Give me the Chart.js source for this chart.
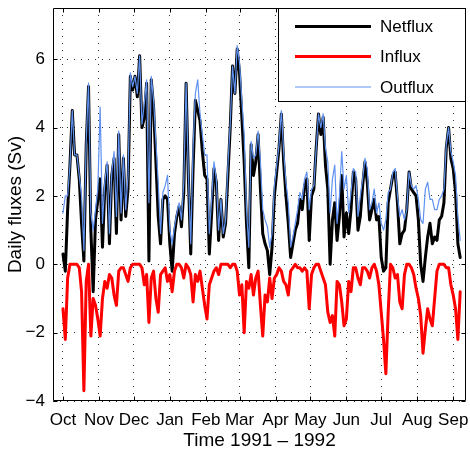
<!DOCTYPE html>
<html><head><meta charset="utf-8">
<script src="https://cdn.jsdelivr.net/npm/chart.js@4.4.1/dist/chart.umd.min.js"></script>
<style>html,body{margin:0;padding:0;background:#fff}canvas{display:block}</style>
</head><body>
<canvas id="c" width="470" height="453"></canvas>
<script>
// Day number since 1 Oct 1991 (every second day)
const days = [0,2,4,6,8,10,12,14,16,18,20,22,24,26,28,30,32,34,36,38,40,42,44,46,48,50,52,54,56,58,
60,62,64,66,68,70,72,74,76,78,80,82,84,86,88,90,92,94,96,98,100,102,104,106,108,110,112,114,116,118,
120,122,124,126,128,130,132,134,136,138,140,142,144,146,148,150,152,154,156,158,160,162,164,166,168,170,172,174,176,178,
180,182,184,186,188,190,192,194,196,198,200,202,204,206,208,210,212,214,216,218,220,222,224,226,228,230,232,234,236,238,
240,242,244,246,248,250,252,254,256,258,260,262,264,266,268,270,272,274,276,278,280,282,284,286,288,290,292,294,296,298,
300,302,304,306,308,310,312,314,316,318,320,322,324,326,328,330,332,334,336,338,340,342];

const netflux = [0.3,-0.2,1.6,2.9,4.5,3.2,3.2,2.5,1.2,0.1,
3.5,5.2,1.0,-0.8,1.3,1.9,2.5,0.5,2.2,2.9,
0.6,2.6,3.1,0.9,3.8,1.3,3.1,1.4,2.2,5.5,
5.1,5.5,4.9,6.1,4.0,4.3,5.3,0.1,5.4,4.6,
3.0,1.4,0.6,1.9,2.0,1.9,0.6,-0.2,0.9,1.4,
1.7,1.1,2.1,5.3,2.5,0.3,2.8,4.8,4.5,4.2,
3.3,2.6,2.5,0.3,1.5,2.8,2.4,0.7,1.9,0.8,
1.2,2.6,4.0,5.8,5.0,6.3,5.6,4.3,3.0,1.2,
-0.1,3.5,2.6,3.0,3.8,2.2,0.9,0.6,0.4,-0.3,
0.5,2.0,2.7,3.4,4.4,3.0,2.0,1.2,0.2,0.6,
1.0,1.2,1.9,1.6,2.3,2.5,0.7,2.0,2.2,3.4,
4.4,3.8,4.3,2.9,2.2,0.0,1.3,1.8,0.7,1.4,
2.6,0.8,1.5,0.9,1.6,2.7,2.5,1.0,1.4,2.3,
3.0,2.4,1.3,1.6,1.9,1.3,1.4,0.2,-0.2,-0.1,
1.8,2.2,2.6,2.7,1.8,0.6,0.9,1.0,1.6,2.7,
2.2,2.1,2.0,1.3,0.0,-0.5,0.2,0.8,1.2,0.6,
0.8,0.7,1.3,1.4,1.8,3.4,4.0,3.1,2.8,2.1,
0.6,0.2];

const influx = [-1.3,-2.2,-0.4,0,0,0,0,-0.1,-0.8,-3.7,
-0.5,0,-2.1,-1.0,-1.2,-1.6,-2.1,-1.0,-0.5,-0.7,
-0.3,-0.4,-0.9,-1.2,-0.2,-0.1,-0.1,-0.3,-0.5,-0.1,
0,0,0,0,-0.1,-0.6,-0.3,-1.7,-0.4,-0.2,
-1.0,-1.4,-0.3,-0.2,-0.1,-0.5,-0.3,-0.8,-0.2,0,
0,-0.1,-0.4,0,-0.1,-0.3,-1.1,-0.3,-0.5,-0.2,
-0.7,-1.2,-1.6,-0.6,-0.4,-0.2,-0.1,-0.3,0,0,
0,0,-0.1,0,0,-0.2,-0.9,-0.6,-2.0,-0.5,
-0.7,-0.3,-0.9,-0.4,-0.2,-1.2,-2.1,-0.9,-1.1,-0.4,
-1.0,-0.4,-0.3,-0.1,-0.2,-0.5,-0.6,-0.9,-0.2,-0.1,
0,-0.1,-0.1,-0.2,-0.1,-0.2,-1.3,-0.3,-0.1,0,
0,-0.2,-0.4,-0.6,-1.4,-1.7,-1.5,-2.1,-0.5,-0.6,
-1.1,-1.8,-1.6,-0.5,-0.8,-0.1,-0.1,-0.4,-0.6,-0.1,
-0.1,-0.2,-0.4,-0.1,0,-0.2,-0.6,-1.4,-2.2,-3.2,
-1.4,0,-0.1,-0.4,-0.3,-1.1,-1.3,-0.3,0,0,
-0.1,-0.3,-0.7,-1.0,-1.5,-2.6,-1.9,-1.3,-1.6,-1.8,
-1.0,-0.2,0,0,0,-0.1,-0.1,-0.6,-0.9,-1.3,
-2.2,-0.8];

const outflux = [1.5,2.0,2.0,2.9,4.5,3.2,3.2,2.6,2.0,0.4,
3.6,5.3,1.5,1.0,1.6,2.2,4.6,1.2,2.4,3.0,
0.9,2.7,3.3,1.4,3.9,1.5,3.2,1.6,2.6,5.6,
5.2,5.5,5.0,6.1,4.1,4.7,5.4,1.8,5.5,4.8,
3.6,2.4,0.9,2.1,2.3,2.6,1.0,0.6,1.1,1.5,
1.8,1.3,2.4,5.3,2.6,0.6,3.4,5.0,5.4,4.4,
3.8,3.2,3.2,0.9,1.9,3.0,2.5,1.0,1.9,0.9,
1.3,2.9,4.1,5.8,5.0,6.4,5.9,4.8,3.8,1.6,
0.5,3.6,3.1,3.2,3.9,3.0,1.6,1.3,1.1,0.5,
0.9,2.3,2.9,3.5,4.5,3.3,2.4,1.8,0.5,0.8,
1.2,1.6,2.1,1.9,2.5,2.7,1.6,2.2,2.3,3.4,
4.4,4.0,4.4,3.4,3.0,1.5,2.5,2.9,1.2,2.0,
3.3,2.2,2.6,1.5,2.1,2.8,2.7,1.4,2.0,2.5,
3.1,2.8,1.6,1.8,2.2,1.5,1.8,1.2,1.0,1.3,
2.1,2.2,2.7,2.8,2.0,1.4,1.6,1.3,1.6,2.7,
2.3,2.2,2.3,1.9,1.3,1.2,2.2,2.4,1.9,1.9,
1.6,1.6,1.9,2.0,2.2,3.5,4.0,3.3,3.0,2.6,
1.4,0.7];

const monthTickDays = [0,31,61,92,123,152,183,213,244,274,305,336];
const monthLabels = ['Oct','Nov','Dec','Jan','Feb','Mar','Apr','May','Jun','Jul','Aug','Sep'];
const yTickValues = [-4,-2,0,2,4,6];
const yTickLabels = ['\u22124','\u22122','0','2','4','6'];
const seriesNames = ['Netflux','Influx','Outflux'];
const seriesColors = ['#000000','#ff0000','rgb(95,145,240)'];
const seriesWidths = [3,3,1.2];

const FONT = '"Liberation Sans", Arial, Helvetica, sans-serif';
const toXY = vals => vals.map((v,i)=>({x:days[i], y:v}));

const boxPlugin = {
  id:'boxPlugin',
  afterDraw(chart){
    const {ctx, chartArea:a, scales} = chart;
    const xs = scales.x, ys = scales.y;
    ctx.save();
    ctx.strokeStyle = '#000'; ctx.lineWidth = 1;
    const L = Math.round(a.left)+0.5, R = Math.round(a.right)-0.5, T = Math.round(a.top)+0.5, B = Math.round(a.bottom)-0.5;
    ctx.beginPath();
    ctx.rect(L, T, R-L, B-T);
    ctx.stroke();
    ctx.beginPath();
    monthTickDays.forEach(d=>{
      const px = Math.round(xs.getPixelForValue(d))+0.5;
      ctx.moveTo(px,B); ctx.lineTo(px,B-4);
      ctx.moveTo(px,T); ctx.lineTo(px,T+4);
    });
    yTickValues.forEach(v=>{
      const py = Math.round(ys.getPixelForValue(v))+0.5;
      ctx.moveTo(L,py); ctx.lineTo(L+4,py);
      ctx.moveTo(R,py); ctx.lineTo(R-4,py);
    });
    ctx.stroke();
    // legend box
    const lx0 = 278.5, ly0 = T, lx1 = R, ly1 = 101.5;
    ctx.fillStyle = '#fff';
    ctx.fillRect(lx0, ly0, lx1-lx0, ly1-ly0);
    ctx.strokeRect(lx0, ly0, lx1-lx0, ly1-ly0);
    const rows = [26.5, 56.5, 87];
    ctx.font = '17px ' + FONT;
    ctx.textBaseline = 'middle';
    ctx.textAlign = 'left';
    seriesNames.forEach((n,i)=>{
      ctx.beginPath();
      ctx.strokeStyle = seriesColors[i];
      ctx.lineWidth = seriesWidths[i];
      ctx.moveTo(295, rows[i]); ctx.lineTo(371, rows[i]);
      ctx.stroke();
      ctx.fillStyle = '#000';
      ctx.fillText(n, 380, rows[i]+1);
    });
    ctx.restore();
  }
};

new Chart(document.getElementById('c'), {
  type:'line',
  data:{datasets:[
    {label:seriesNames[0], data:toXY(netflux), borderColor:seriesColors[0], borderWidth:seriesWidths[0], order:2},
    {label:seriesNames[1], data:toXY(influx), borderColor:seriesColors[1], borderWidth:seriesWidths[1], order:1},
    {label:seriesNames[2], data:toXY(outflux), borderColor:seriesColors[2], borderWidth:seriesWidths[2], order:0}
  ]},
  options:{
    responsive:false, animation:false, devicePixelRatio:1,
    layout:{padding:{top:8,right:4,left:0,bottom:0}},
    elements:{point:{radius:0}, line:{tension:0, borderJoinStyle:'round', borderCapStyle:'round', fill:false}},
    plugins:{legend:{display:false}, tooltip:{enabled:false}},
    scales:{
      x:{type:'linear', min:-8.6, max:347,
        afterBuildTicks: s => { s.ticks = monthTickDays.map(v=>({value:v})); },
        afterFit: s => { s.height = 52; s.paddingLeft = 0; s.paddingRight = 0; },
        ticks:{autoSkip:false, maxRotation:0, padding:9, color:'#000', font:{family:FONT, size:17},
          callback:(v)=>{ const i = monthTickDays.indexOf(v); return i>=0 ? monthLabels[i] : ''; }},
        grid:{color:'#333', lineWidth:1, drawTicks:false},
        border:{display:false, dash:[1,6]},
        title:{display:true, text:'Time 1991 \u2013 1992', color:'#000', font:{family:FONT, size:19}, padding:{top:0, bottom:1}}
      },
      y:{type:'linear', min:-4, max:7.5,
        afterBuildTicks: s => { s.ticks = yTickValues.map(v=>({value:v})); },
        afterFit: s => { s.width = 53; s.paddingTop = 0; s.paddingBottom = 0; },
        ticks:{padding:8, color:'#000', font:{family:FONT, size:17},
          callback:(v)=>{ const i = yTickValues.indexOf(v); return i>=0 ? yTickLabels[i] : ''; }},
        grid:{color:'#333', lineWidth:1, drawTicks:false},
        border:{display:false, dash:[1,6]},
        title:{display:true, text:'Daily fluxes (Sv)', color:'#000', font:{family:FONT, size:19}, padding:{top:4, bottom:0}}
      }
    }
  },
  plugins:[boxPlugin]
});
</script>
</body></html>
